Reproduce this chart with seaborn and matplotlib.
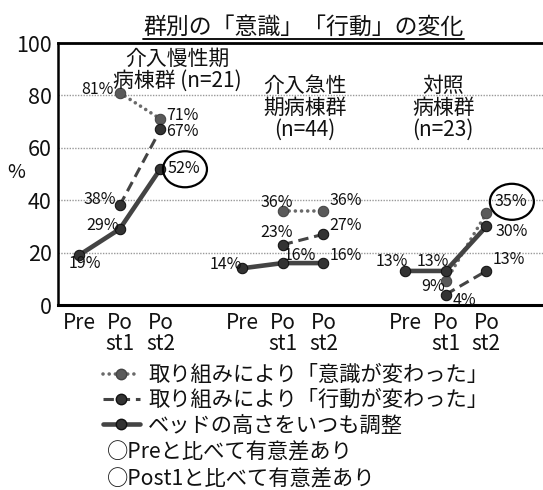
import numpy as np
import pandas as pd
import matplotlib
matplotlib.use('Agg')
import matplotlib.pyplot as plt
import seaborn as sns
from matplotlib.lines import Line2D
from matplotlib.patches import Ellipse
from matplotlib.transforms import offset_copy

# ---- data ----
groups = ['介入慢性期', '介入急性期', '対照']
phases = ['Pre', 'Post1', 'Post2']
tick_labels = ['Pre', 'Po\nst1', 'Po\nst2']
group_labels = ['介入慢性期\n病棟群 (n=21)', '介入急性\n期病棟群\n(n=44)', '対照\n病棟群\n(n=23)']
series_names = ['取り組みにより「意識が変わった」',
                '取り組みにより「行動が変わった」',
                'ベッドの高さをいつも調整']

aware = [np.nan, 81, 71, np.nan, 36, 36, np.nan, 9, 35]
action = [np.nan, 38, 67, np.nan, 23, 27, np.nan, 4, 13]
bed = [19, 29, 52, 14, 16, 16, 13, 13, 30]

# significant (circled) points: (series index, point index)
circled = [(2, 2), (0, 8)]

# label offsets in pixels (dx, dy up)
aware_off = [None, (-22, 3), (22, 3.5), None, (-6, 8), (22.5, 10), None, (-13, -5.5), (24, 12)]
action_off = [None, (-19.5, 5.5), (22, -2.5), None, (-6, 12), (22.5, 9), None, (19, -5.5), (22, 11.5)]
bed_off = [(6, -8), (-17.5, 3.5), (23, 0), (-16, 3.5), (17.5, 8), (22, 8), (-13, 9.5), (-12.5, 9.5), (25.5, -5)]

# ---- long table ----
rows = []
for s, vals in zip(series_names, [aware, action, bed]):
    for i, v in enumerate(vals):
        g, p = divmod(i, 3)
        rows.append({'series': s, 'group': groups[g], 'phase': phases[p],
                     'x': g * 4 + p, 'value': v})
df = pd.DataFrame(rows)

sns.set_style('white')
plt.rcParams['font.family'] = ['Noto Sans CJK JP', 'DejaVu Sans']
plt.rcParams['text.color'] = '#111111'

fig = plt.figure(figsize=(5.43, 4.9), dpi=100)
ax = fig.add_axes([58 / 543, 1 - 305 / 490, 1 - 58 / 543, (305 - 43) / 490])

styles = [
    dict(color='#6a6a6a', lw=2.6, linestyle=(0, (0.01, 1.7)), dash_capstyle='round',
         marker='o', markersize=7.5, markerfacecolor='#5a5a5a', markeredgecolor='#444444'),
    dict(color='#444444', lw=2.2, linestyle=(0, (3.4, 1.9)),
         marker='o', markersize=7.5, markerfacecolor='#333333', markeredgecolor='#111111'),
    dict(color='#444444', lw=3.3, linestyle='-',
         marker='o', markersize=7.5, markerfacecolor='#333333', markeredgecolor='#111111'),
]

for k, s in enumerate(series_names):
    sub = df[df['series'] == s].dropna()
    sns.lineplot(data=sub, x='x', y='value', units='group', estimator=None,
                 ax=ax, zorder=3 + k, legend=False, **styles[k])

ax.set_xlim(-0.515, 11.39)
ax.set_ylim(0, 100)

# pixels per data unit, used for the circle marks
sx = ax.bbox.width / (11.39 + 0.515)
sy = ax.bbox.height / 100

# value labels
for k, (vals, offs) in enumerate(zip([aware, action, bed], [aware_off, action_off, bed_off])):
    for i, v in enumerate(vals):
        if np.isnan(v):
            continue
        g, p = divmod(i, 3)
        x = g * 4 + p
        ax.annotate(f'{int(v)}%', xy=(x, v), xytext=offs[i],
                    textcoords='offset pixels', ha='center', va='center',
                    fontsize=11.5, zorder=10)
        if (k, i) in circled:
            tr = offset_copy(ax.transData, fig=fig, x=offs[i][0] + 1.5, y=offs[i][1] - 0.5,
                             units='dots')
            ax.add_patch(Ellipse((x, v), 44 / sx, 36 / sy, transform=tr, fill=False,
                                 ec='black', lw=1.6, zorder=11, clip_on=False))

# group labels
group_x = [2.42, 5.55, 8.94]
group_y = [89.7, 75.1, 75.1]
for gx, gy, lab in zip(group_x, group_y, group_labels):
    ax.text(gx, gy, lab, ha='center', va='center', fontsize=15,
            linespacing=1.0)

ax.set_yticks([0, 20, 40, 60, 80, 100])
ax.set_xticks([g * 4 + p for g in range(3) for p in range(3)])
ax.set_xticklabels(tick_labels * 3, linespacing=0.95)
ax.tick_params(axis='x', length=0, pad=5, labelsize=15, labelcolor='#111111')
ax.tick_params(axis='y', length=0, pad=4.5, labelsize=15.5, labelcolor='#111111')
ax.set_xlabel('')
ax.set_ylabel('%', rotation=0, fontsize=14, ha='center', va='center', color='#111111')
ax.yaxis.set_label_coords(-0.0856, 0.506)

ax.yaxis.grid(True, linestyle=(0, (1, 1)), color='#999999', lw=1)
ax.xaxis.grid(False)
for side in ['top', 'left', 'bottom']:
    ax.spines[side].set_color('black')
ax.spines['top'].set_linewidth(2.0)
ax.spines['left'].set_linewidth(1.8)
ax.spines['bottom'].set_linewidth(2.2)
ax.spines['right'].set_visible(False)

# title with underline
title = fig.text(303.5 / 543, 1 - 27 / 490, '群別の「意識」「行動」の変化',
                 ha='center', va='center', fontsize=16.5)
fig.canvas.draw()
bb = title.get_window_extent().transformed(fig.transFigure.inverted())
fig.add_artist(Line2D([bb.x0, bb.x1], [1 - 39 / 490] * 2, color='black', lw=1.3))

# legend
handles = [Line2D([], [], **st) for st in styles]
fig.legend(handles, series_names, loc='upper left',
           bbox_to_anchor=(103 / 543, 1 - 364 / 490), frameon=False, fontsize=15.3,
           handlelength=1.74, handletextpad=0.38, labelspacing=0.15,
           borderpad=0, borderaxespad=0)

fig.text(107 / 543, 1 - 452 / 490, '○Preと比べて有意差あり', ha='left', va='center',
         fontsize=15.3)
fig.text(107 / 543, 1 - 479 / 490, '○Post1と比べて有意差あり', ha='left', va='center',
         fontsize=15.3)

fig.savefig('out.png', dpi=100)
